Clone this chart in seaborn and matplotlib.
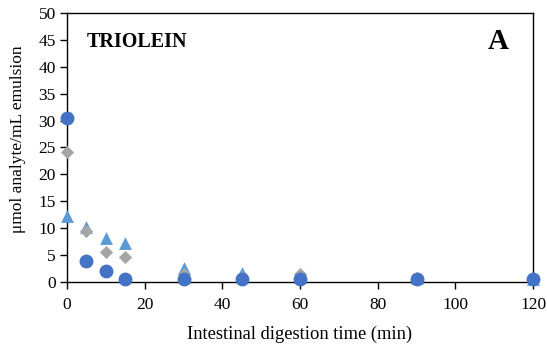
import matplotlib
matplotlib.use("Agg")
import matplotlib.pyplot as plt
import seaborn as sns
import pandas as pd

time = [0, 5, 10, 15, 30, 45, 60, 90, 120]
circles = [30.4, 3.9, 2.0, 0.6, 0.5, 0.5, 0.5, 0.5, 0.5]
diamonds = [24.2, 9.4, 5.6, 4.6, 1.5, 1.0, 1.5, 0.7, 0.5]
triangles = [12.3, 10.2, 8.2, 7.2, 2.6, 1.6, 1.0, 0.8, 0.5]
series_names = ["triangles", "diamonds", "circles"]

df = pd.concat([
    pd.DataFrame({"t": time, "v": triangles, "s": "triangles"}),
    pd.DataFrame({"t": time, "v": diamonds, "s": "diamonds"}),
    pd.DataFrame({"t": time, "v": circles, "s": "circles"}),
])

sns.set_theme(style="white")
plt.rcParams["font.family"] = ["Liberation Serif", "DejaVu Serif"]
plt.rcParams["text.color"] = "black"
plt.rcParams["axes.labelcolor"] = "black"
plt.rcParams["xtick.color"] = "black"
plt.rcParams["ytick.color"] = "black"

fig = plt.figure(figsize=(5.47, 3.52), dpi=100)
ax = fig.add_axes([0.1225, 0.199, 0.852, 0.764])

palette = {"triangles": "#5B9BD5", "diamonds": "#A5A5A5", "circles": "#4472C4"}
markers = {"triangles": "^", "diamonds": "D", "circles": "o"}
sizes = {"triangles": 85, "diamonds": 45, "circles": 100}
for name in series_names:
    sub = df[df["s"] == name]
    sns.scatterplot(data=sub, x="t", y="v", color=palette[name], marker=markers[name],
                    s=sizes[name], linewidth=0, ax=ax, legend=False, zorder=3, clip_on=False)

ax.set_xlim(0, 120)
ax.set_ylim(0, 50)
ax.set_xticks([0, 20, 40, 60, 80, 100, 120])
ax.set_yticks(range(0, 51, 5))
ax.tick_params(axis="both", direction="out", length=5, width=1, color="black",
               labelcolor="black", labelsize=12.5, bottom=True, left=True)
ax.tick_params(axis="x", pad=6)
ax.tick_params(axis="y", pad=3)
for sp in ax.spines.values():
    sp.set_color("black")
    sp.set_linewidth(1)
ax.set_xlabel("Intestinal digestion time (min)", fontsize=13.3, labelpad=9, color="black")
ax.set_ylabel("μmol analyte/mL emulsion", fontsize=12.5, color="black")
ax.yaxis.set_label_coords(-0.088, 0.53)
ax.text(0.043, 0.893, "TRIOLEIN", transform=ax.transAxes, fontsize=14.5,
        fontweight="bold", va="center", ha="left", color="black")
ax.text(0.926, 0.893, "A", transform=ax.transAxes, fontsize=21,
        fontweight="bold", va="center", ha="center", color="black")

fig.savefig("out.png", dpi=100)
